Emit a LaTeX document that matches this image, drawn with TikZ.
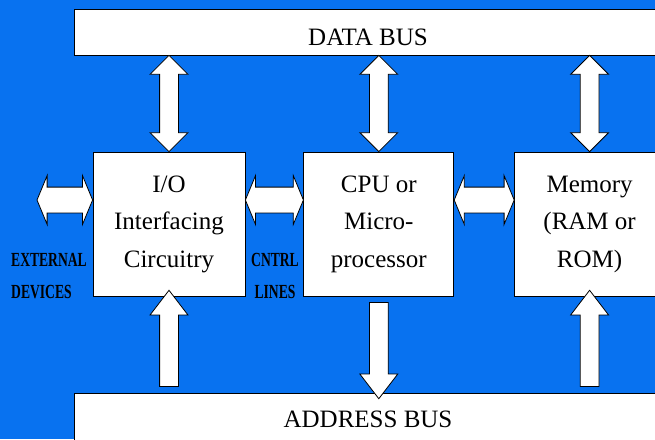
\documentclass[tikz,border=0pt]{standalone}
\usepackage{fontspec}
\setmainfont{Liberation Serif}
\newfontfamily\narrowfont[FakeStretch=0.68]{Liberation Serif}
\usetikzlibrary{positioning,shapes.arrows,calc}
\definecolor{slideblue}{RGB}{8,114,240}

\tikzset{
  block/.style={rectangle, draw, fill=white, line width=0.8pt, minimum width=150pt, minimum height=144pt,
    inner sep=0pt, align=center, font=\fontsize{25}{37.5}\selectfont},
  bus/.style={rectangle, draw, fill=white, line width=0.8pt, minimum width=588pt, minimum height=46pt,
    inner sep=0pt, font=\fontsize{25}{30}\selectfont},
  tag/.style={inner sep=0pt, font=\narrowfont\bfseries\fontsize{20}{32.5}\selectfont},
  fat/.style={draw, fill=white, line width=0.8pt, inner sep=0pt, outer sep=0pt, minimum width=0pt},
  vlink/.style={fat, double arrow, inner ysep=9pt, double arrow head extend=9.5pt, double arrow tip angle=90},
  hlink/.style={fat, double arrow, inner ysep=12.5pt, double arrow head extend=11.5pt, double arrow tip angle=135},
  uplink/.style={fat, single arrow, inner ysep=9pt, single arrow head extend=9.5pt, single arrow tip angle=75},
  bus link/.style={to path={let \p1=(\tikztostart), \p2=(\tikztotarget),
    \n1={veclen(\x2-\x1,\y2-\y1)}, \n2={atan2(\y2-\y1,\x2-\x1)} in
    node[#1, minimum height=\n1, rotate=\n2] at ($(\p1)!0.5!(\p2)$) {}}},
}

\begin{document}
\begin{tikzpicture}[x=1pt, y=-1pt]
    \useasboundingbox (0,0) rectangle (655,439);
    \clip (0,0) rectangle (655,439);
    \fill[slideblue] (0,0) rectangle (655,439);

    % buses
    \node[bus, text height=26.5pt, text depth=0pt] (dbus) at (368,32) {DATA BUS};
    \node[bus, minimum height=52pt] (abus) at (368,419) {ADDRESS BUS};

    % blocks
    \node[block, minimum width=152pt] (io) at (169,224) {I/O\\Interfacing\\Circuitry};
    \node[block, right=58pt of io] (cpu) {CPU or\\Micro-\\processor};
    \node[block, right=60pt of cpu] (mem) {Memory\\(RAM or\\ROM)};

    \node[tag, align=left, anchor=north west] (ext) at (11,253) {EXTERNAL\\DEVICES};
    \node[tag, align=center, anchor=north] (cntrl) at (275,253) {CNTRL\\LINES};
    \coordinate (devices) at (37,200);

    % data bus links
    \path (io.north |- dbus.south) to[bus link=vlink] (io.north);
    \path (cpu.north |- dbus.south) to[bus link=vlink] (cpu.north);
    \path (mem.north |- dbus.south) to[bus link=vlink] (mem.north);

    % side links
    \path (devices) to[bus link=hlink] (io.west |- devices);
    \path (io.east |- devices) to[bus link=hlink] (cpu.west |- devices);
    \path (cpu.east |- devices) to[bus link=hlink] (mem.west |- devices);

    % address bus links
    \path (io.south |- abus.north) to[bus link=uplink] (io.south);
    \path (cpu.south) to[bus link=uplink] (cpu.south |- abus.north);
    \path (mem.south |- abus.north) to[bus link=uplink] (mem.south);
\end{tikzpicture}
\end{document}
